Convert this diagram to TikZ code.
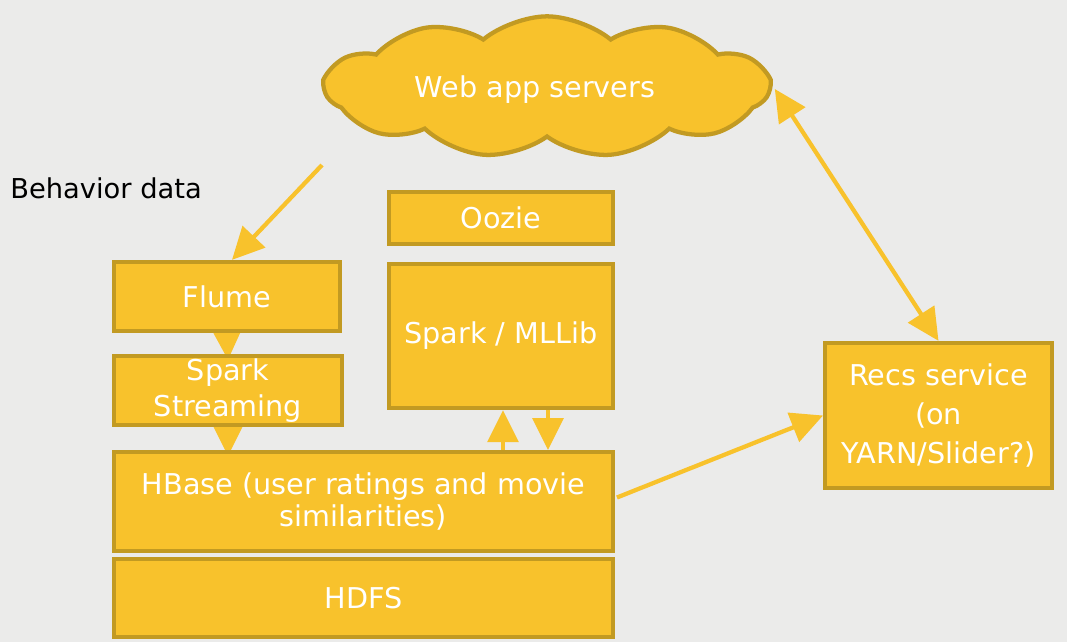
\documentclass[tikz,border=0pt]{standalone}
\usepackage{fontspec}
\setmainfont{DejaVu Sans}
\usetikzlibrary{shapes.symbols,arrows.meta,calc}
\definecolor{bg}{HTML}{EBEBEA}
\definecolor{gold}{HTML}{F8C22C}
\definecolor{goldedge}{HTML}{C29A22}
\pgfdeclarelayer{backlayer}
\pgfdeclarelayer{arrowlayer}
\pgfsetlayers{backlayer,arrowlayer,main}
\begin{document}
\begin{tikzpicture}[x=0.75pt,y=-0.75pt,
  box/.style={draw=goldedge, fill=gold, line width=3.2pt, text=white, align=center, inner sep=0pt, font=\fontsize{21.5}{24}\selectfont},
  arr/.style={draw=gold, line width=3.2pt, -{Triangle[length=24pt,width=23pt]}},
  darr/.style={draw=gold, line width=3.2pt, {Triangle[length=24pt,width=23pt]}-{Triangle[length=24pt,width=23pt]}}]
\begin{pgfonlayer}{backlayer}
\fill[bg] (0,0) rectangle (1067,642);
\end{pgfonlayer}
\clip (0,0) rectangle (1067,642);

\node[box, cloud, cloud puffs=11, cloud puff arc=80, aspect=3.1, minimum width=333pt, minimum height=106pt, text depth=0pt] (cloud) at (547,87) {\hspace*{-18pt}Web app servers};

\node[anchor=west, font=\fontsize{20.5}{24}\selectfont, text=black, inner sep=0pt] (bd) at (10,188) {Behavior data};

\node[box, minimum width=169.5pt, minimum height=51.75pt] (flume) at (227,296.5) {Flume};
\node[box, minimum width=171pt, minimum height=51.75pt, font=\fontsize{21.5}{27}\selectfont] (stream) at (228,390.5) {Spark\\Streaming};
\node[box, minimum width=374pt, minimum height=74pt] (hbase) at (363.5,501.5) {HBase (user ratings and movie\\similarities)};
\node[box, minimum width=374pt, minimum height=58.5pt] (hdfs) at (363.5,598) {HDFS};
\node[box, minimum width=168pt, minimum height=39pt] (oozie) at (501,218) {Oozie};
\node[box, minimum width=168pt, minimum height=108pt] (mllib) at (501,336) {Spark / MLLib};
\node[box, minimum width=170pt, minimum height=108.75pt, font=\fontsize{21.5}{29}\selectfont] (recs) at (938.5,415.5) {Recs service\\(on\\YARN/Slider?)};

\coordinate (bdstart) at (322,165);
\begin{pgfonlayer}{arrowlayer}
\draw[arr] (bdstart) -- ($(flume.north)+(5,0)$);
\draw[arr] (flume.south) -- ($(stream.north)+(0,6)$);
\draw[arr] ($(stream.south)+(0,0)$) -- ($(hbase.north -| stream.south)+(0,6)$);
\draw[arr] ($(hbase.north -| mllib.south)+(2,0)$) -- ($(mllib.south)+(2,0)$);
\draw[arr] ($(mllib.south)+(47,0)$) -- ($(hbase.north -| mllib.south)+(47,0)$);
\draw[arr] ($(hbase.east)+(2,-4)$) -- (recs.west);
\draw[darr] (recs.north) -- ($(cloud.east)+(2,2)$);
\end{pgfonlayer}
\end{tikzpicture}
\end{document}
